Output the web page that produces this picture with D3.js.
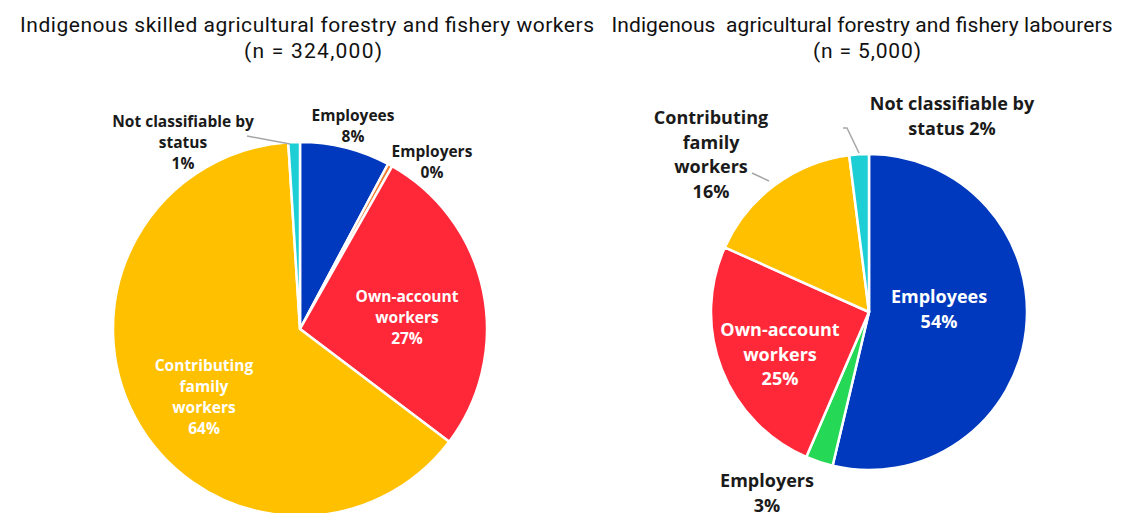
<!DOCTYPE html>
<html>
<head>
<meta charset="utf-8">
<script src="https://cdn.jsdelivr.net/npm/d3@7"></script>
<style>
  html, body { margin: 0; padding: 0; background: #fff; }
  svg { display: block; }
  .title { font-family: Roboto, "Noto Sans", sans-serif; font-size: 21px; fill: #111; }
  .lbl { font-family: "Open Sans", sans-serif; font-weight: 700; }
</style>
</head>
<body>
<svg id="chart" width="1141" height="513"></svg>
<script>
// Status in employment categories, in drawing order (clockwise from 12 o'clock)
const categories = ["Employees", "Employers", "Own-account workers", "Contributing family workers", "Not classifiable by status"];
const colors = ["#0039BD", "#F07A2E", "#FF2839", "#FFC000", "#1DCFD5"];
const colorsRight = ["#0039BD", "#25D855", "#FF2839", "#FFC000", "#1DCFD5"];

// Shares (%) of each category
const skilledValues = [7.8, 0.4, 27.1, 63.7, 1.0];
const labourerValues = [53.7, 2.8, 25.2, 16.3, 2.0];

const titlesLeft = ["Indigenous skilled agricultural forestry and fishery workers", "(n = 324,000)"];
const titlesRight = ["Indigenous  agricultural forestry and fishery labourers", "(n = 5,000)"];

const svg = d3.select("#chart");
const pct = v => Math.round(v) + "%";

function drawPie(cfg) {
  const g = svg.append("g").attr("transform", `translate(${cfg.cx},${cfg.cy})`);
  const pie = d3.pie().sort(null).value(d => d.v);
  const arc = d3.arc().innerRadius(0).outerRadius(cfg.r);
  const data = pie(cfg.values.map((v, i) => ({ v, i })));

  g.selectAll("path").data(data).join("path")
    .attr("d", arc)
    .attr("fill", d => cfg.colors[d.data.i])
    .attr("stroke", "#fff")
    .attr("stroke-width", 2.5)
    .attr("stroke-linejoin", "round");

  // leader lines
  cfg.leaders.forEach(pts => {
    g.append("polyline")
      .attr("points", pts.map(p => p.join(",")).join(" "))
      .attr("fill", "none").attr("stroke", "#a6a6a6").attr("stroke-width", 1.5);
  });

  // labels: lines of text, last line carries the percentage
  cfg.labels.forEach(L => {
    const t = g.append("text").attr("class", "lbl")
      .attr("text-anchor", "middle")
      .attr("font-size", cfg.fontSize)
      .attr("fill", L.white ? "#fff" : "#1a1a1a");
    const lines = L.lines.map(s => s.replace("{p}", pct(cfg.values[L.i])));
    lines.forEach((s, k) => {
      t.append("tspan").attr("x", L.x).attr("y", L.y + k * cfg.lh).text(s);
    });
  });
}

// titles
function drawTitle(lines, centers, widths) {
  const t = svg.append("text").attr("class", "title").attr("text-anchor", "middle")
    .attr("xml:space", "preserve");
  lines.forEach((s, k) => {
    t.append("tspan").attr("x", centers[k]).attr("y", 32 + k * 26).text(s)
      .attr("textLength", widths[k]).attr("lengthAdjust", "spacing");
  });
}
drawTitle(titlesLeft, [307, 313], [574, 138]);
drawTitle(titlesRight, [862, 867], [501, 108]);

drawPie({
  cx: 300, cy: 329, r: 187, values: skilledValues, colors: colors, fontSize: 15.5, lh: 21,
  leaders: [[[-53, -193], [-10, -185]]],
  labels: [
    { i: 0, x: 53, y: -208, lines: ["Employees", "{p}"] },
    { i: 1, x: 132, y: -172, lines: ["Employers", "{p}"] },
    { i: 4, x: -117, y: -202, lines: ["Not classifiable by", "status", "{p}"] },
    { i: 2, x: 107, y: -27, lines: ["Own-account", "workers", "{p}"], white: true },
    { i: 3, x: -96, y: 42, lines: ["Contributing", "family", "workers", "{p}"], white: true }
  ]
});

drawPie({
  cx: 869, cy: 312, r: 158, values: labourerValues, colors: colorsRight, fontSize: 18, lh: 24.5,
  leaders: [[[-26, -184], [-22, -184], [-10, -159]], [[-117, -139], [-100, -131]]],
  labels: [
    { i: 4, x: 83, y: -202, lines: ["Not classifiable by", "status  {p}"] },
    { i: 3, x: -158, y: -188, lines: ["Contributing", "family", "workers", "{p}"] },
    { i: 0, x: 70, y: -9, lines: ["Employees", "{p}"], white: true },
    { i: 2, x: -89, y: 24, lines: ["Own-account", "workers", "{p}"], white: true },
    { i: 1, x: -102, y: 175, lines: ["Employers", "{p}"] }
  ]
});
</script>
</body>
</html>
